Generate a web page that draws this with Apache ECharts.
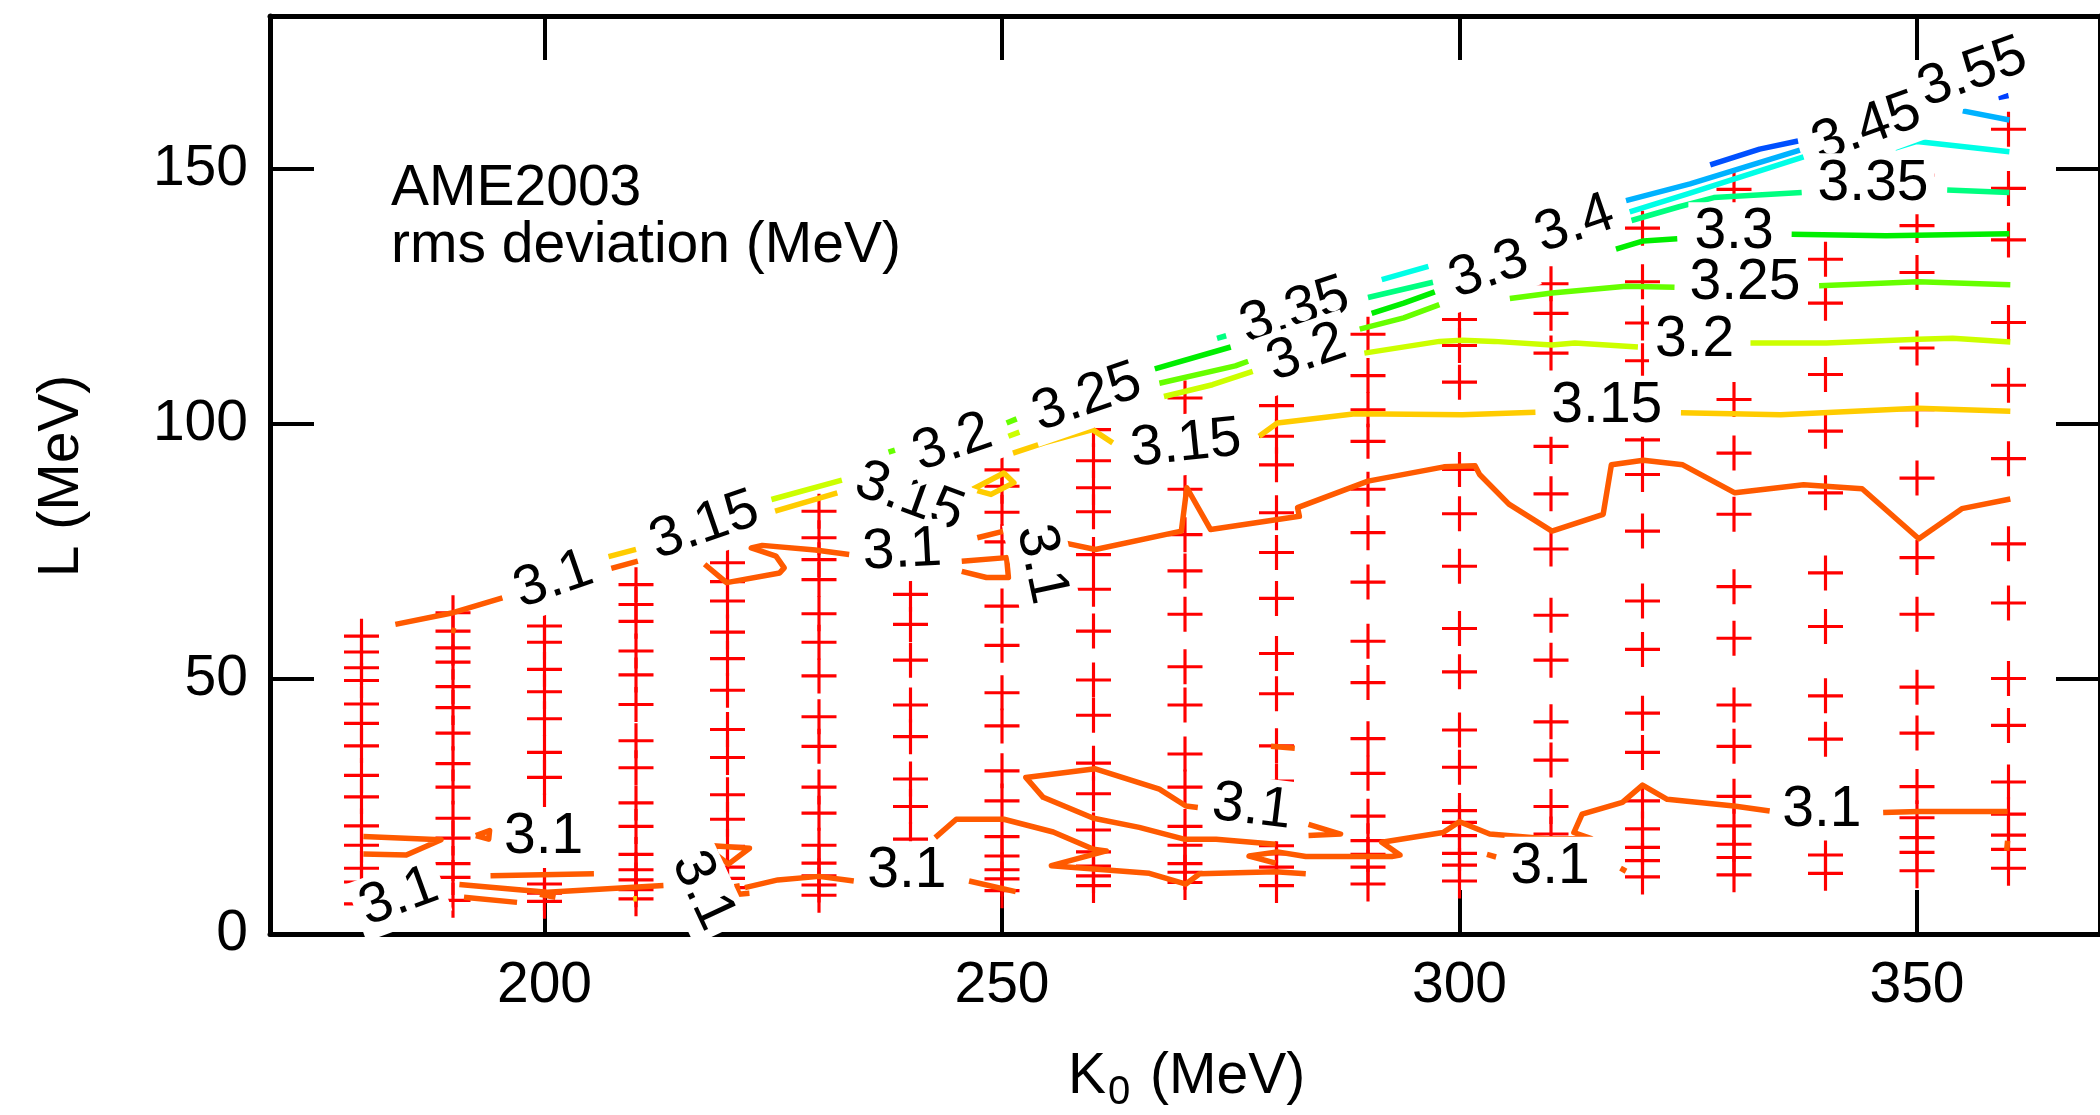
<!DOCTYPE html>
<html>
<head>
<meta charset="utf-8">
<title>AME2003 rms deviation contours</title>
<script src="https://cdn.jsdelivr.net/npm/echarts@6/dist/echarts.min.js"></script>
<style>
  html, body { margin: 0; padding: 0; background: #fff; }
  #chart { width: 2100px; height: 1115px; }
</style>
</head>
<body>
<div id="chart"></div>
<script>
// ---- axis ticks ----
const xTicks = [200, 250, 300, 350];
const yTicks = [0, 50, 100, 150];

// ---- parameter grid: K0 columns and the L values computed in each ----
const k0Columns = [180, 190, 200, 210, 220, 230, 240, 250, 260, 270, 280, 290, 300, 310, 320, 330, 340, 350, 360];
const L180 = [58.4, 55.3, 52.2, 49.7, 45.1, 41.3, 36.9, 31.1, 26.9, 21.2, 17.4, 12.9, 10.2, 5.9];
const L190 = [63.0, 59.4, 56.1, 53.3, 48.5, 44.4, 39.4, 33.4, 28.8, 22.7, 18.8, 13.8, 11.1, 6.6];
const L200 = [60.4, 57.2, 51.9, 47.5, 42.2, 35.6, 30.7, 24.1, 9.8, 8.0, 6.4];
const L210 = [68.5, 64.6, 61.3, 55.5, 50.8, 45.0, 37.9, 32.6, 25.7, 21.1, 15.6, 12.6, 10.6, 8.7, 6.9];
const L220 = [72.8, 69.1, 65.3, 59.2, 54.0, 47.8, 40.1, 34.6, 27.3, 22.5, 17.2, 13.1, 10.9, 9.1];
const L230 = [82.9, 77.7, 73.4, 69.5, 62.8, 57.2, 50.6, 42.6, 36.8, 28.8, 23.7, 17.4, 13.9, 11.4, 9.6, 7.6];
const L240 = [66.6, 60.7, 53.7, 44.9, 38.7, 30.4, 25.0, 18.6];
const L250 = [91.0, 87.8, 82.7, 76.9, 64.3, 56.6, 47.3, 40.8, 32.0, 26.1, 19.1, 15.3, 12.6, 10.8, 8.5];
const L260 = [98.9, 92.8, 87.5, 82.8, 74.4, 67.6, 59.4, 49.8, 42.9, 33.5, 27.5, 20.4, 16.1, 13.3, 11.4, 9.5];
const L270 = [105.1, 87.2, 78.3, 71.2, 62.7, 52.4, 44.9, 35.3, 28.8, 21.1, 17.4, 13.8, 12.1, 10.1];
const L280 = [103.6, 97.6, 92.0, 82.6, 74.8, 65.8, 55.0, 47.1, 36.9, 30.0, 17.3, 15.7, 13.1, 9.5];
const L290 = [117.6, 109.5, 102.8, 96.6, 87.2, 78.7, 69.0, 57.4, 49.3, 38.3, 31.5, 23.1, 18.3, 15.6, 13.1, 9.8];
const L300 = [120.5, 115.4, 108.2, 91.1, 82.4, 72.1, 59.9, 51.4, 40.0, 32.7, 24.2, 21.9, 19.3, 15.8, 13.5, 10.4];
const L310 = [127.5, 121.7, 113.9, 95.6, 86.3, 75.5, 62.5, 53.7, 41.6, 34.1, 25.0, 19.6];
const L320 = [138.4, 127.9, 119.8, 112.4, 96.9, 90.1, 79.0, 65.3, 55.8, 43.3, 35.6, 26.1, 20.6, 17.0, 14.4, 11.2];
const L330 = [146.0, 104.8, 94.3, 82.3, 68.1, 58.0, 44.9, 36.8, 27.0, 21.2, 17.6, 15.0, 11.6];
const L340 = [132.3, 123.7, 109.7, 98.6, 86.5, 70.8, 60.3, 46.7, 38.2, 15.5, 11.9];
const L350 = [148.8, 138.9, 129.7, 114.9, 102.8, 89.4, 73.8, 62.7, 48.4, 39.4, 28.9, 22.8, 18.9, 16.0, 12.4];
const L360 = [157.8, 146.2, 136.1, 119.9, 107.6, 93.2, 76.5, 64.9, 50.1, 40.9, 29.8, 23.5, 19.4, 16.6, 12.9];
const lColumns = [L180, L190, L200, L210, L220, L230, L240, L250, L260, L270, L280, L290, L300, L310, L320, L330, L340, L350, L360];

// ---- contour levels (rms deviation, MeV); each is a list of [K0, L] polylines ----
const levels = [3.10, 3.15, 3.20, 3.25, 3.30, 3.35, 3.40, 3.45, 3.50, 3.55];
const c310 = [
  [[183.7,60.7],[190.0,63.0],[195.4,65.9]],
  [[207.3,71.7],[210.2,73.1]],
  [[217.5,72.5],[219.9,68.9],[225.7,70.8],[226.2,71.8],[225.3,74.1],[222.6,75.7],[223.8,76.2],[229.6,75.3],[233.3,74.4]],
  [[247.3,77.7],[250.2,79.0]],
  [[245.6,73.1],[250.5,73.8],[250.7,69.9],[248.3,69.9],[245.6,71.1]],
  [[256.8,76.7],[260.2,75.4],[269.6,79.0],[270.2,87.5],[272.8,79.3],[282.5,81.9],[282.3,83.6],[290.0,88.8],[298.3,91.6],[301.7,91.8],[302.2,90.1],[305.4,84.3],[310.1,79.0],[315.7,82.3],[316.6,92.0],[320.1,92.9],[324.4,92.0],[330.1,86.5],[337.6,88.1],[344.0,87.3],[350.2,77.5],[354.9,83.4],[360.2,85.3]],
  [[189.8,59.6],[190.3,59.4]],
  [[180.2,19.1],[188.7,18.5],[184.9,15.5],[180.2,15.7]],
  [[192.5,19.3],[194.0,20.3],[193.9,18.6],[192.5,19.3]],
  [[194.1,11.4],[205.4,11.8]],
  [[190.7,9.7],[200.3,8.2],[213.0,9.5]],
  [[199.5,7.8],[201.2,7.2]],
  [[191.2,7.2],[197.0,6.2]],
  [[218.4,17.3],[222.4,16.8],[220.1,13.7],[218.8,15.5],[218.4,17.3]],
  [[221.0,9.9],[221.2,7.8],[222.4,8.0]],
  [[221.9,9.1],[225.5,10.6],[230.0,11.3],[233.8,10.4]],
  [[246.4,10.4],[251.5,8.3]],
  [[242.7,18.9],[245.0,22.5],[250.2,22.5],[255.6,20.0],[260.0,16.6],[261.4,16.3],[255.4,13.4],[255.6,13.1],[266.1,11.9],[270.1,9.8],[271.6,11.8],[279.9,12.2],[283.2,11.8]],
  [[271.4,24.8],[270.1,25.1],[267.2,28.4],[260.2,32.4],[252.6,30.7],[254.5,26.8],[260.0,22.7],[265.0,20.9],[269.9,18.6],[273.4,18.6],[279.9,17.6]],
  [[279.9,13.9],[277.0,15.3],[280.1,16.1],[283.2,15.2],[292.6,15.2],[293.5,15.5],[291.5,18.0],[298.2,19.9],[300.0,22.0],[303.3,19.6],[309.5,18.7],[314.4,18.7],[312.5,19.9],[313.4,23.5],[317.8,25.8],[320.0,29.2],[322.7,26.4],[330.0,25.1],[333.9,24.1]],
  [[346.3,23.8],[350.2,24.0],[359.9,24.0]],
  [[359.9,18.3],[359.8,16.3]],
  [[303.0,15.6],[304.0,15.1]],
  [[317.6,12.9],[318.2,12.3]],
  [[279.4,36.8],[282.0,36.4]],
  [[283.5,21.5],[287.0,19.6],[283.5,19.3]]
];
const c315 = [
  [[207.0,74.0],[210.0,75.4]],
  [[225.2,82.9],[232.0,86.5]],
  [[246.8,87.2],[250.2,90.4],[251.3,88.5],[248.8,86.2],[246.8,87.2]],
  [[251.2,94.3],[254.6,96.3],[259.9,98.9],[262.1,96.3]],
  [[278.1,97.6],[280.1,100.2],[288.6,102.0],[300.3,101.8],[308.3,102.3]],
  [[324.2,102.2],[335.1,101.8],[350.1,103.1],[360.2,102.5]],
  [[209.7,6.9],[210.1,6.9]]
];
const c320 = [
  [[224.8,85.2],[232.5,89.0]],
  [[237.5,91.9],[238.5,92.4]],
  [[250.7,97.6],[251.9,98.4]],
  [[267.7,105.4],[273.0,107.7],[277.4,110.3]],
  [[289.6,113.9],[297.8,116.2],[300.3,116.4],[303.8,116.2],[310.1,115.5],[312.6,115.9],[319.5,115.1]],
  [[331.8,115.9],[340.1,115.9],[350.1,116.6],[353.9,116.8],[360.2,116.1]]
];
const c325 = [
  [[237.6,94.5],[238.3,94.9]],
  [[250.5,100.2],[251.6,101.0]],
  [[267.2,108.0],[275.5,111.4],[276.9,112.3]],
  [[289.1,118.6],[293.9,120.8],[297.8,123.4]],
  [[305.5,124.6],[310.1,125.7],[318.2,127.0],[323.5,126.8]],
  [[339.3,127.1],[350.1,127.9],[360.2,127.3]]
];
const c330 = [
  [[266.7,110.8],[275.0,115.1]],
  [[290.4,121.7],[293.9,123.7],[297.3,125.9]],
  [[317.1,134.3],[320.1,135.9],[323.8,136.3]],
  [[336.3,137.2],[346.6,136.9],[360.1,137.3]]
];
const c335 = [
  [[273.5,116.8],[274.5,117.3]],
  [[290.0,124.8],[297.1,127.8]],
  [[318.8,139.9],[324.0,142.6],[327.8,144.4],[337.4,145.4]],
  [[353.3,145.9],[360.1,145.4]]
];
const c340 = [
  [[291.5,128.3],[296.6,130.9]],
  [[318.6,141.6],[325.1,145.2],[337.6,152.4]],
  [[347.6,154.1],[350.0,155.4],[360.1,153.4]]
];
const c345 = [
  [[318.2,143.8],[325.2,147.1],[337.2,153.7]],
  [[355.0,161.4],[360.1,159.6]]
];
const c350 = [
  [[327.4,150.8],[332.8,153.9],[337.0,155.5]]
];
const c355 = [
  [[358.9,164.0],[360.0,164.4]]
];
const contourSets = [c310, c315, c320, c325, c330, c335, c340, c345, c350, c355];

// ---- inline contour labels ----
const labelText = ['3.1','3.15','3.15','3.2','3.25','3.15','3.35','3.2','3.3','3.4','3.45','3.55','3.35','3.3','3.25','3.2','3.15','3.1','3.1','3.1','3.1','3.1','3.1','3.1','3.1','3.1'];
const labelK0 = [201.0, 217.5, 239.9, 244.6, 259.3, 270.1, 282.0, 283.3, 303.2, 312.6, 344.5, 356.1, 345.2, 330.0, 331.2, 325.7, 316.1, 239.1, 254.3, 199.9, 184.1, 217.3, 239.6, 277.3, 309.9, 339.6];
const labelL  = [69.4, 80.0, 85.6, 96.3, 105.1, 96.0, 122.1, 113.9, 130.2, 139.1, 158.0, 168.8, 147.1, 137.5, 127.5, 116.4, 103.5, 75.1, 72.5, 18.9, 7.2, 8.5, 12.2, 24.8, 13.1, 24.3];

// ---- styling ----
const levelColors = ['#ff5a00', '#ffcc00', '#ccff00', '#66ff00', '#00ee00', '#00ff80', '#00ffe6', '#00b2ff', '#0050ff', '#0040ff'];
const labelAngles = [19, 19, -20, 19, 19, 6, 18, 19, 19, 19, 20, 20, 0, 0, 0, 0, 0, 3, -78, 0, 20, -65, 0, -7, 0, 0];
const FONT = '"Liberation Sans", Arial, Helvetica, sans-serif';

const chart = echarts.init(document.getElementById('chart'), null, { renderer: 'canvas', width: 2100, height: 1115 });

const series = [];

// grid points, drawn as red plus signs
const gridPoints = [];
k0Columns.forEach((k, i) => lColumns[i].forEach(l => gridPoints.push([k, l])));
series.push({
  type: 'scatter',
  data: gridPoints,
  symbol: 'path://M-0.045,-0.5H0.045V-0.045H0.5V0.045H0.045V0.5H-0.045V0.045H-0.5V-0.045H-0.045Z',
  symbolSize: 35,
  itemStyle: { color: '#ff0000', opacity: 1 },
  z: 2,
  silent: true,
  animation: false
});

// contour polylines
contourSets.forEach((segs, li) => {
  segs.forEach(seg => {
    series.push({
      type: 'line',
      data: seg,
      showSymbol: false,
      symbol: 'none',
      lineStyle: { color: levelColors[li], width: 5.5, cap: 'butt', join: 'round' },
      z: 3,
      silent: true,
      animation: false
    });
  });
});

const axisLineStyle = { color: '#000', width: 5 };
const tickStyle = { color: '#000', width: 4 };

// fixed texts: annotation and axis names
const staticGraphics = [
  {
    type: 'text', left: 391, top: 161,
    style: { text: 'AME2003\nrms deviation (MeV)', font: '57px ' + FONT, lineHeight: 57, fill: '#000' }
  },
  {
    type: 'text', x: 62, y: 476, rotation: Math.PI / 2,
    style: { text: 'L (MeV)', font: '57px ' + FONT, fill: '#000', align: 'center', verticalAlign: 'middle' }
  },
  {
    type: 'text', left: 1068, top: 1049,
    style: { text: 'K', font: '57px ' + FONT, lineHeight: 57, fill: '#000' }
  },
  {
    type: 'text', left: 1108, top: 1073,
    style: { text: '0', font: '40px ' + FONT, lineHeight: 40, fill: '#000' }
  },
  {
    type: 'text', left: 1150, top: 1049,
    style: { text: '(MeV)', font: '57px ' + FONT, lineHeight: 57, fill: '#000' }
  }
];

chart.setOption({
  animation: false,
  backgroundColor: '#ffffff',
  grid: { left: 270, top: 16, width: 1838, height: 918, show: false },
  xAxis: [
    {
      type: 'value', min: 170, max: 370, position: 'bottom',
      axisLine: { show: true, onZero: false, lineStyle: axisLineStyle },
      axisTick: { show: true, inside: true, length: 44, lineStyle: tickStyle, customValues: xTicks },
      axisLabel: { show: true, customValues: xTicks, fontFamily: FONT, fontSize: 57, lineHeight: 57, color: '#000', margin: 24 },
      splitLine: { show: false }
    },
    {
      type: 'value', min: 170, max: 370, position: 'top',
      axisLine: { show: true, onZero: false, lineStyle: axisLineStyle },
      axisTick: { show: true, inside: true, length: 44, lineStyle: tickStyle, customValues: xTicks },
      axisLabel: { show: false },
      splitLine: { show: false }
    }
  ],
  yAxis: [
    {
      type: 'value', min: 0, max: 180, position: 'left',
      axisLine: { show: true, onZero: false, lineStyle: axisLineStyle },
      axisTick: { show: true, inside: true, length: 44, lineStyle: tickStyle, customValues: yTicks },
      axisLabel: { show: true, customValues: yTicks, fontFamily: FONT, fontSize: 57, lineHeight: 57, color: '#000', margin: 22 },
      splitLine: { show: false }
    },
    {
      type: 'value', min: 0, max: 180, position: 'right',
      axisLine: { show: true, onZero: false, lineStyle: axisLineStyle },
      axisTick: { show: true, inside: true, length: 44, lineStyle: tickStyle, customValues: yTicks },
      axisLabel: { show: false },
      splitLine: { show: false }
    }
  ],
  graphic: staticGraphics,
  series: series
});

// contour labels: placed through the grid's own coordinate conversion,
// boxed in white so they mask the lines, markers and frame beneath them
const labelGraphics = labelText.map((t, i) => {
  const p = chart.convertToPixel({ gridIndex: 0 }, [labelK0[i], labelL[i]]);
  return {
    type: 'text',
    x: p[0], y: p[1],
    rotation: labelAngles[i] * Math.PI / 180,
    z: 100 + i,
    silent: true,
    style: {
      text: t,
      font: '57px ' + FONT,
      lineHeight: 57,
      fill: '#000',
      align: 'center',
      verticalAlign: 'middle',
      backgroundColor: '#ffffff',
      padding: [2, 6, 2, 6]
    }
  };
});
chart.setOption({ graphic: staticGraphics.concat(labelGraphics) });
</script>
</body>
</html>
